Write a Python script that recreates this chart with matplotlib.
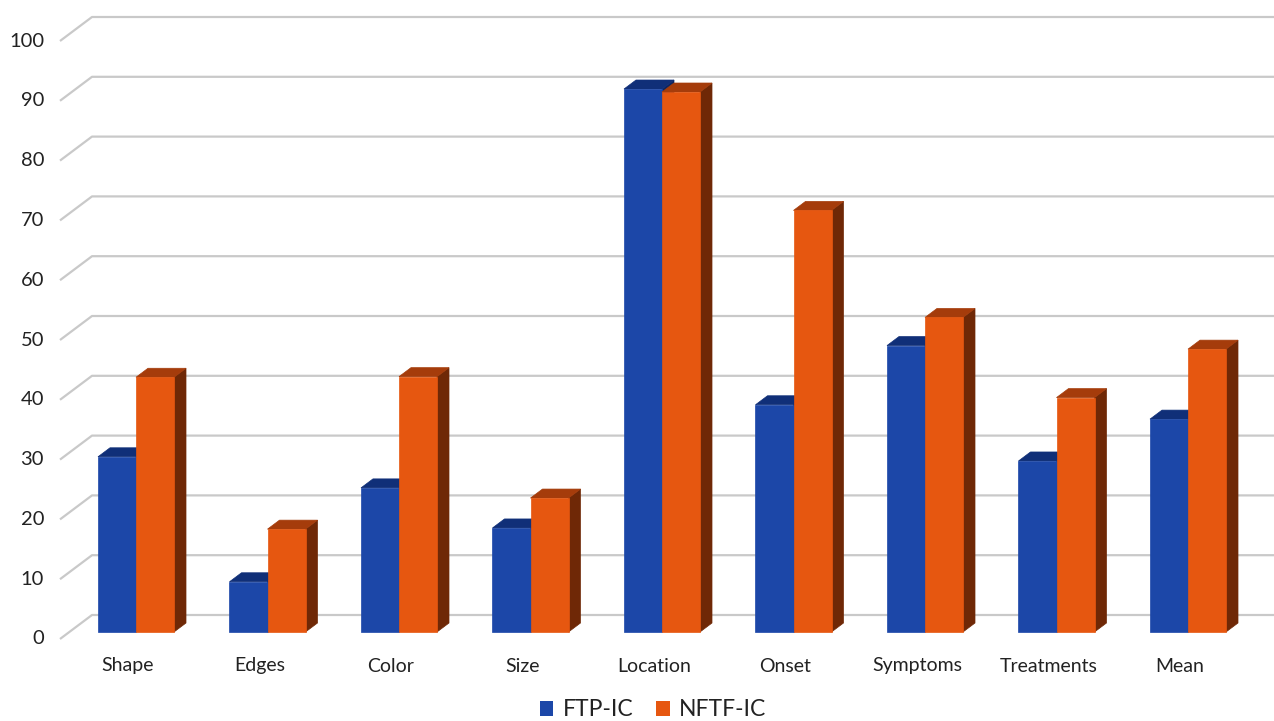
import matplotlib.pyplot as plt
from matplotlib.patches import Patch, Polygon

plt.rcParams['font.family'] = ['Lato', 'DejaVu Sans']

# ── data ──
categories = ["Shape", "Edges", "Color", "Size", "Location",
              "Onset", "Symptoms", "Treatments", "Mean"]
ftp_ic  = [29.3, 8.4, 24.1, 17.4, 90.8, 38.0, 47.9, 28.6, 35.6]
nftf_ic = [42.6, 17.2, 42.7, 22.4, 90.3, 70.5, 52.6, 39.2, 47.3]
y_ticks = list(range(0, 101, 10))

# ── layout (pixels of the 1274x721 canvas) ──
W, H = 1274, 721
X0_PX, STEP_PX = 136, 131.5        # pair centre of first category, spacing
Y0_PX, UNIT_PX = 632, 5.98         # bar baseline, px per value unit
BAR_W = 0.289                      # in category units
DEPTH_DX, DEPTH_DY = 12, 9         # pseudo 3d depth of a bar, px

fig = plt.figure(figsize=(W / 100, H / 100), dpi=100)
ax = fig.add_axes([0, 0, 1, 1])
ax.set_xlim(-X0_PX / STEP_PX, (W - X0_PX) / STEP_PX)
ax.set_ylim((Y0_PX - H) / UNIT_PX, Y0_PX / UNIT_PX)
ax.axis("off")


def px_x(dx):
    return dx / STEP_PX


def px_y(dy):
    return dy / UNIT_PX


# gridlines: slanted floor edge + back wall line
grid_c = "#c9c9c9"
text_c = "#222222"
for k in y_ticks:
    front = (px_x(60 - X0_PX), k - px_y(7))
    back_l = (px_x(92 - X0_PX), k + px_y(17))
    back_r = (px_x(W - X0_PX), k + px_y(17))
    ax.plot([front[0], back_l[0], back_r[0]], [front[1], back_l[1], back_r[1]],
            color=grid_c, lw=1.6, zorder=1, solid_capstyle="butt")
    ax.text(px_x(44 - X0_PX), k - px_y(7), str(k), ha="right", va="center",
            fontsize=14.5, color=text_c)

ddx, ddy = px_x(DEPTH_DX), px_y(DEPTH_DY)


def bar3d(x_left, h, front_c, top_c, side_c, z):
    x_right = x_left + BAR_W
    side = Polygon([(x_right, 0), (x_right + ddx, ddy),
                    (x_right + ddx, h + ddy), (x_right, h)],
                   closed=True, fc=side_c, ec=side_c, lw=0.5, zorder=z)
    top = Polygon([(x_left, h), (x_left + ddx, h + ddy),
                   (x_right + ddx, h + ddy), (x_right, h)],
                  closed=True, fc=top_c, ec=top_c, lw=0.5, zorder=z)
    ax.add_patch(side)
    ax.add_patch(top)
    ax.bar(x_left, h, width=BAR_W, align="edge", color=front_c,
           edgecolor=front_c, lw=0.5, zorder=z)


blue = ("#1c47a8", "#102f78", "#0d2560")
orange = ("#e65710", "#a53c0b", "#6f2806")

for i, cat in enumerate(categories):
    bar3d(i - BAR_W, ftp_ic[i], *blue, z=3 + 2 * i)
    bar3d(i, nftf_ic[i], *orange, z=4 + 2 * i)
    ax.text(i - px_x(8), px_y(Y0_PX - 666), cat, ha="center", va="center",
            fontsize=14, color=text_c)

handles = [Patch(facecolor=blue[0], label="FTP-IC"),
           Patch(facecolor=orange[0], label="NFTF-IC")]
fig.legend(handles=handles, loc="center",
           bbox_to_anchor=(653 / W, 1 - 710 / H),
           ncol=2, frameon=False, fontsize=16.5, handlelength=0.6,
           handleheight=0.6, handletextpad=0.4, columnspacing=1.0,
           labelcolor=text_c)

fig.savefig("out.png", dpi=100)
